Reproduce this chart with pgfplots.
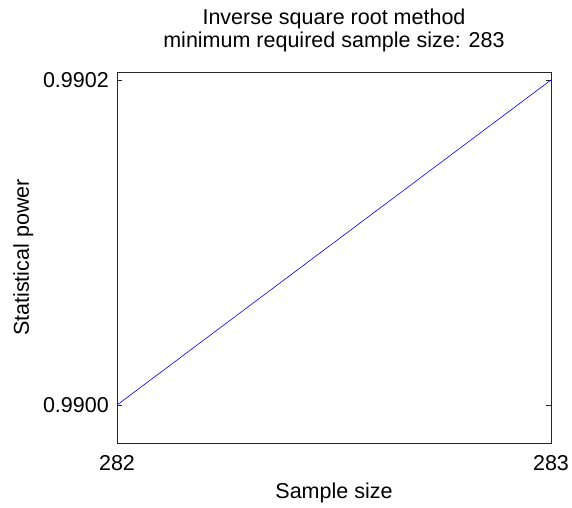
\documentclass[border=0pt]{standalone}
\usepackage{fontspec}
\setmainfont{Liberation Sans}
\usepackage{pgfplots}
\pgfplotsset{compat=1.18}
\begin{document}
\begin{tikzpicture}[x=1pt,y=1pt]
\path[use as bounding box] (0,0) rectangle (572,507);
\begin{axis}[
    at={(117pt,64pt)}, anchor=south west,
    scale only axis,
    width=434pt, height=371pt,
    xmin=282, xmax=283,
    ymin=0.98997662, ymax=0.99020492,
    xtick={282,283}, xticklabels={282,283},
    ytick={0.99,0.9902}, yticklabels={0.9900,0.9902},
    tick align=inside,
    major tick length=5pt,
    axis line style={black!85, line width=0.8pt},
    tick style={black!85, line width=0.8pt},
    font=\fontsize{21.5}{24}\selectfont,
    ticklabel style={font=\fontsize{21.5}{24}\selectfont, inner sep=0pt},
    xticklabel style={anchor=base, yshift=-27.5pt},
    yticklabel style={anchor=east, xshift=-8pt},
    /pgf/number format/assume math mode=true,
    xlabel={Sample size},
    ylabel={Statistical power},
    xlabel style={at={([yshift=-55.5pt]axis description cs:0.5,0)}, anchor=base, inner sep=0pt},
    ylabel style={at={([xshift=-88pt]axis description cs:0,0.5)}, anchor=base, inner sep=0pt},
    title={Inverse square root method\\minimum required sample size: 283},
    title style={at={([yshift=18pt]axis description cs:0.5,1)}, anchor=base, inner sep=0pt,
        align=center, font=\fontsize{21.5}{23}\selectfont},
]
\addplot[color=blue, line width=0.6pt] coordinates {
    (282, 0.9900) (283, 0.9902)
};
\end{axis}
\end{tikzpicture}
\end{document}
